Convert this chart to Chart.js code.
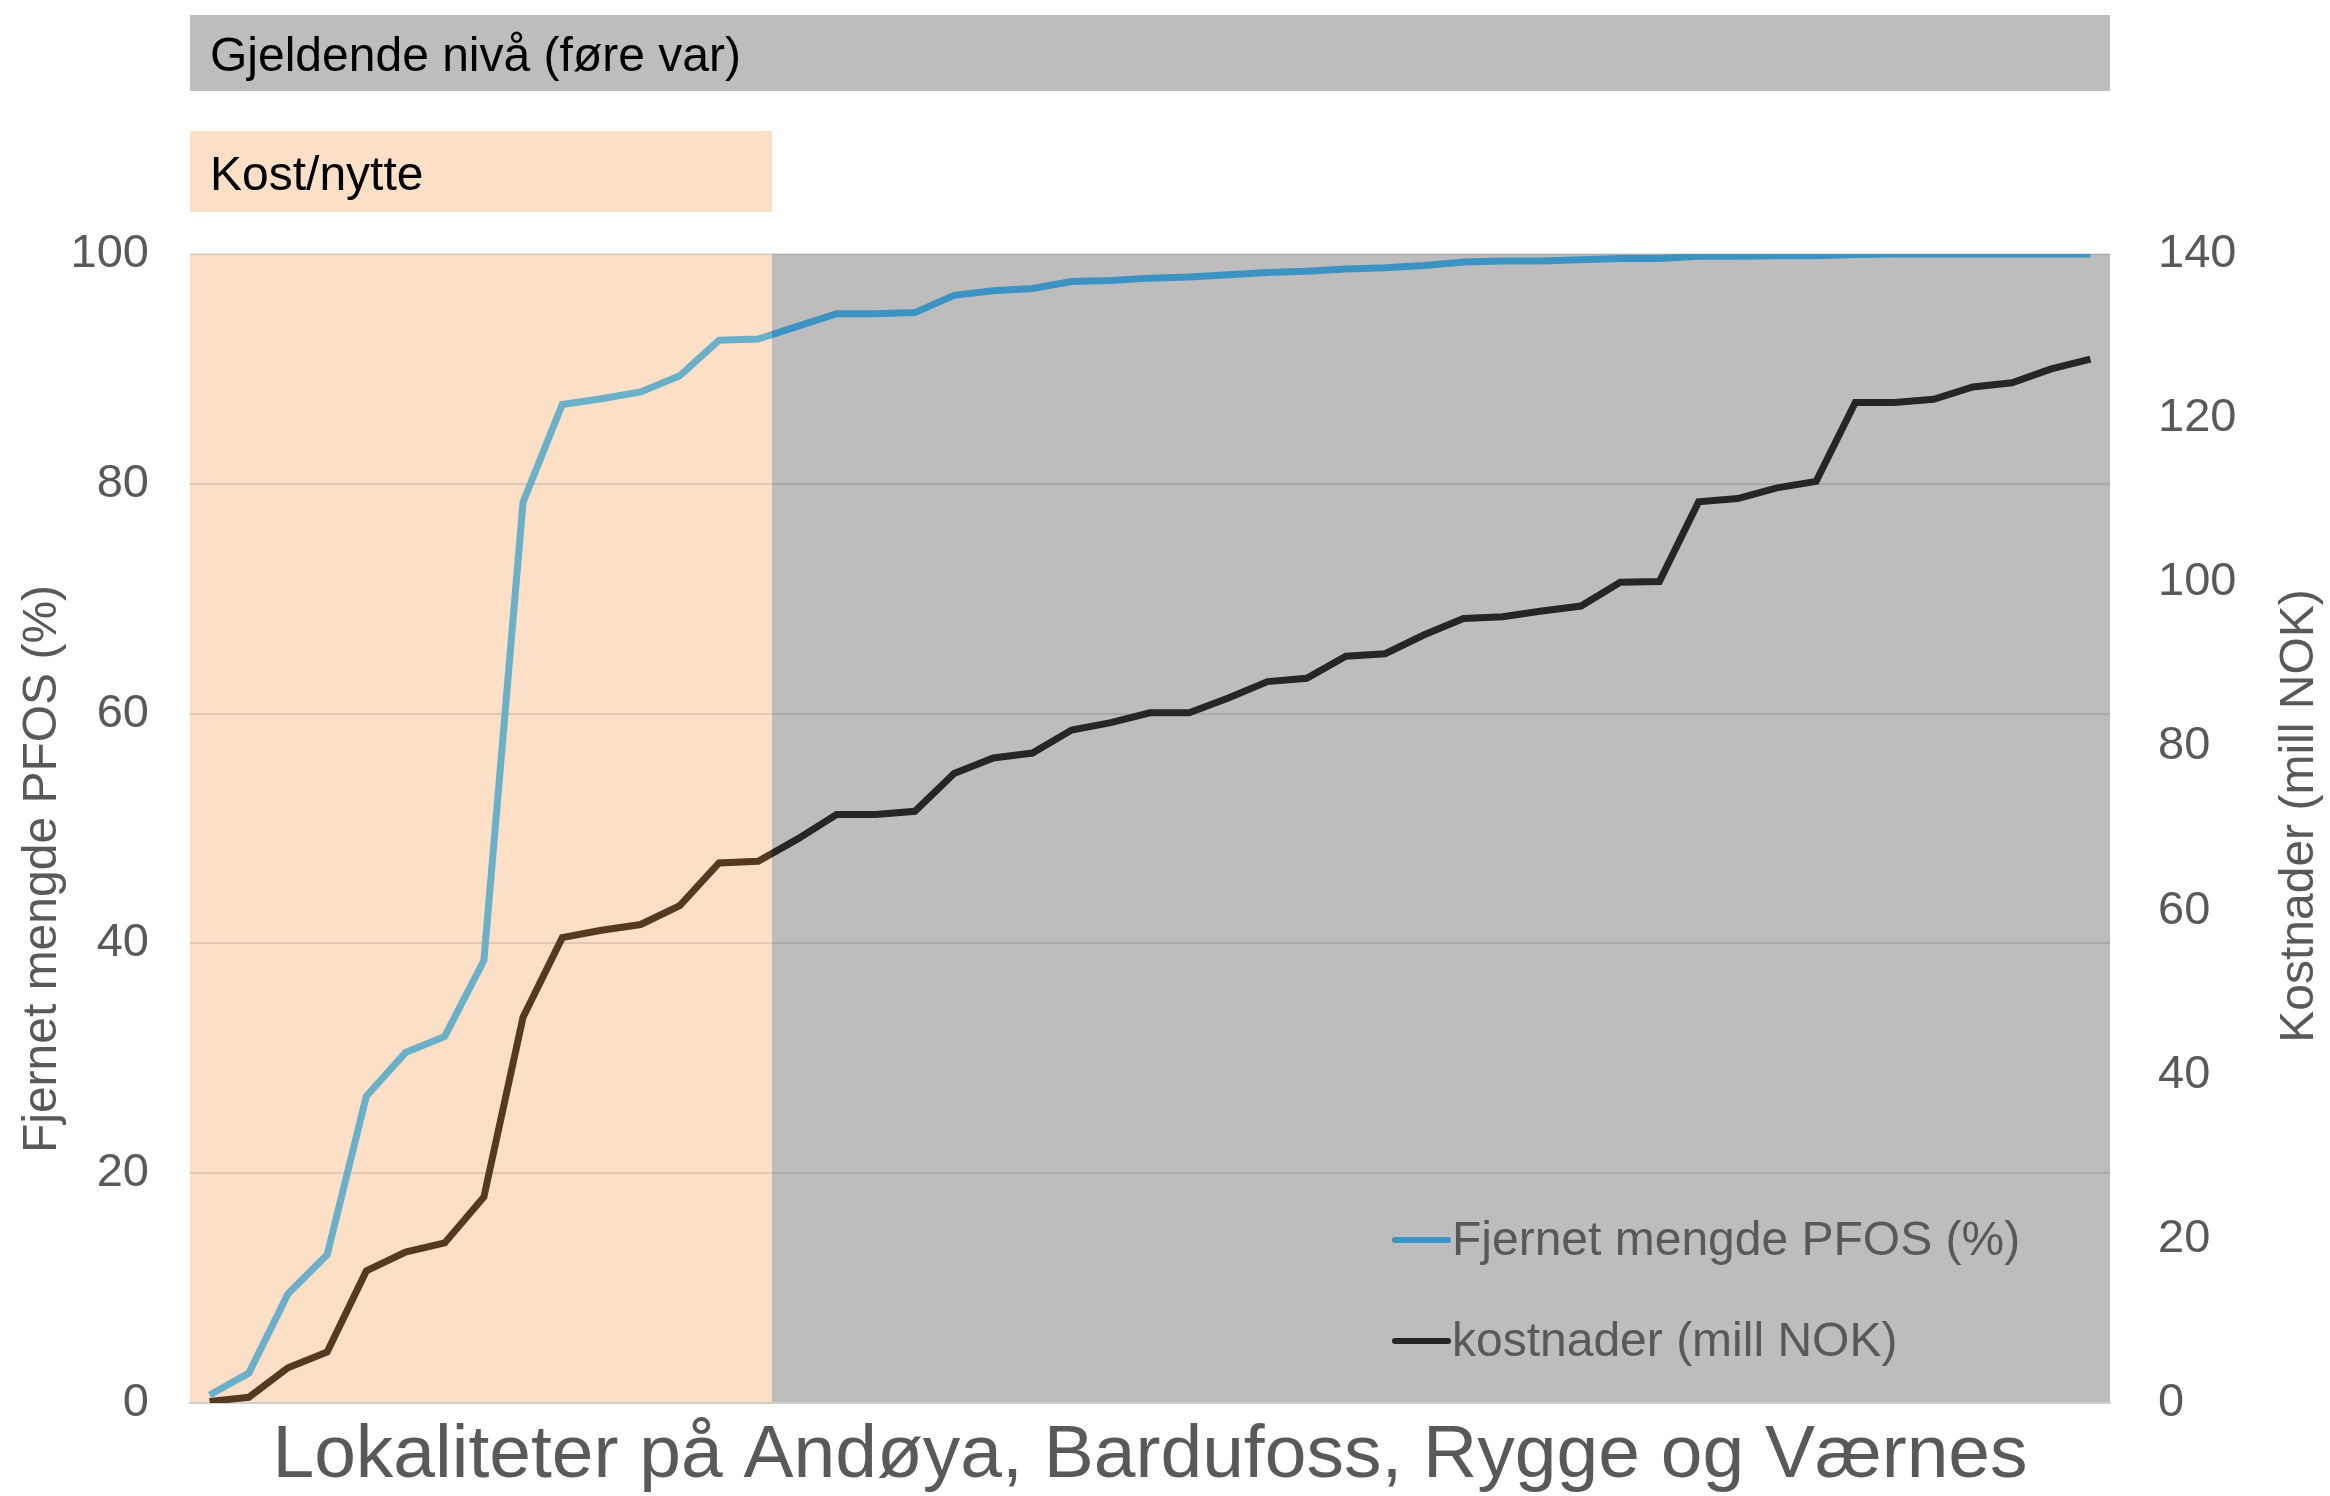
<!DOCTYPE html>
<html>
<head>
<meta charset="utf-8">
<style>
  body { margin: 0; background: #fff; }
</style>
</head>
<body>
<canvas id="pfosChart" width="2330" height="1496"></canvas>
<script src="https://cdn.jsdelivr.net/npm/chart.js"></script>
<script>
// sites, sorted by cost efficiency (not named in the figure)
const sites = [1, 2, 3, 4, 5, 6, 7, 8, 9, 10, 11, 12, 13, 14, 15, 16, 17, 18, 19, 20,
  21, 22, 23, 24, 25, 26, 27, 28, 29, 30, 31, 32, 33, 34, 35, 36, 37, 38, 39, 40,
  41, 42, 43, 44, 45, 46, 47, 48, 49];

// cumulative removed PFOS (%)
const pfosRemoved = [0.7, 2.6, 9.5, 12.9, 26.7, 30.5, 31.9, 38.5, 78.4, 86.9,
  87.4, 88.0, 89.4, 92.5, 92.6, 93.7, 94.8, 94.8, 94.9, 96.4,
  96.8, 97.0, 97.6, 97.7, 97.9, 98.0, 98.2, 98.4, 98.5, 98.7,
  98.8, 99.0, 99.3, 99.4, 99.4, 99.5, 99.6, 99.6, 99.8, 99.8,
  99.85, 99.85, 99.95, 100, 100, 100, 100, 100, 100];

// cumulative costs (mill NOK)
const costs = [0.2, 0.7, 4.3, 6.2, 16.1, 18.4, 19.5, 25.1, 47.0, 56.7,
  57.6, 58.3, 60.6, 65.8, 66.0, 68.7, 71.7, 71.7, 72.1, 76.7,
  78.6, 79.2, 82.0, 82.9, 84.1, 84.1, 85.9, 87.9, 88.3, 91.0,
  91.3, 93.6, 95.6, 95.8, 96.5, 97.1, 100.0, 100.1, 109.8, 110.2,
  111.5, 112.3, 121.9, 121.9, 122.3, 123.8, 124.3, 126.0, 127.2];

const seriesNames = ["Fjernet mengde PFOS (%)", "kostnader (mill NOK)"];
const bandLabels = ["Gjeldende nivå (føre var)", "Kost/nytte"];
const leftTicks = { max: 100, step: 20 };
const rightTicks = { max: 140, step: 20 };
const kostNytteEnd = 14.35; // x position where the cost/benefit band stops

const PEACH = "#fcdfc7";
const GRAY = "#bdbdbd";
const TEXT = "#595959";
const FONT = '"Liberation Sans", Arial, sans-serif';

Chart.defaults.font.family = FONT;
Chart.defaults.color = TEXT;

// line colour changes where the peach band ends
function splitColor(light, dark) {
  return function (context) {
    const chart = context.chart;
    const a = chart.chartArea;
    if (!a || !chart.scales.x) return dark;
    const split = chart.scales.x.getPixelForValue(kostNytteEnd);
    const f = Math.min(Math.max((split - a.left) / (a.right - a.left), 0), 1);
    const g = chart.ctx.createLinearGradient(a.left, 0, a.right, 0);
    g.addColorStop(0, light);
    g.addColorStop(f, light);
    g.addColorStop(f, dark);
    g.addColorStop(1, dark);
    return g;
  };
}

const legendColors = ["#3a93c3", "#262626"];

const bandPlugin = {
  id: "bands",
  beforeDraw(chart) {
    const { ctx, chartArea: a, scales: { x } } = chart;
    const split = x.getPixelForValue(kostNytteEnd);
    ctx.save();
    ctx.fillStyle = GRAY;
    ctx.fillRect(split, a.top, a.right - split, a.bottom - a.top);
    ctx.fillStyle = PEACH;
    ctx.fillRect(a.left, a.top, split - a.left, a.bottom - a.top);

    // header boxes
    ctx.fillStyle = GRAY;
    ctx.fillRect(a.left, 15, a.right - a.left, 76);
    ctx.fillStyle = PEACH;
    ctx.fillRect(a.left, 131, split - a.left, 81);
    ctx.fillStyle = "#000";
    ctx.font = "48px " + FONT;
    ctx.textBaseline = "middle";
    ctx.textAlign = "left";
    ctx.fillText(bandLabels[0], a.left + 20, 58);
    ctx.fillText(bandLabels[1], a.left + 20, 177);
    ctx.restore();
  },
  afterDraw(chart) {
    const { ctx } = chart;
    ctx.save();
    ctx.font = "48px " + FONT;
    ctx.fillStyle = TEXT;
    ctx.textBaseline = "middle";

    // axis titles, both reading bottom to top
    ctx.textAlign = "center";
    ctx.save();
    ctx.translate(43, 869);
    ctx.rotate(-Math.PI / 2);
    ctx.fillText(seriesNames[0], 0, 0);
    ctx.restore();
    ctx.save();
    ctx.translate(2300, 816);
    ctx.rotate(-Math.PI / 2);
    ctx.fillText("Kostnader (mill NOK)", 0, 0);
    ctx.restore();

    // legend inside plot
    ctx.textAlign = "left";
    ctx.lineCap = "round";
    ctx.lineWidth = 6;
    const rows = [1240, 1341];
    chart.data.datasets.forEach((ds, i) => {
      ctx.strokeStyle = legendColors[i];
      ctx.beginPath();
      ctx.moveTo(1395, rows[i]);
      ctx.lineTo(1448, rows[i]);
      ctx.stroke();
      ctx.fillStyle = TEXT;
      ctx.fillText(ds.label, 1452, rows[i] + 2);
    });
    ctx.restore();
  }
};

new Chart(document.getElementById("pfosChart"), {
  type: "line",
  data: {
    labels: sites,
    datasets: [
      {
        label: seriesNames[0],
        data: pfosRemoved,
        yAxisID: "y",
        borderColor: splitColor("#6ab0c9", "#3a93c3"),
        borderWidth: 7,
        pointRadius: 0,
        fill: false,
        tension: 0
      },
      {
        label: seriesNames[1],
        data: costs,
        yAxisID: "y1",
        borderColor: splitColor("#533a21", "#262626"),
        borderWidth: 7,
        pointRadius: 0,
        fill: false,
        tension: 0
      }
    ]
  },
  options: {
    responsive: false,
    animation: false,
    layout: { padding: { top: 254 } },
    plugins: {
      legend: { display: false },
      tooltip: { enabled: false }
    },
    scales: {
      x: {
        offset: true,
        ticks: { display: false },
        grid: { display: false },
        border: { color: "#d0d0d0", width: 2 },
        title: {
          display: true,
          text: "Lokaliteter på Andøya, Bardufoss, Rygge og Værnes",
          color: TEXT,
          font: { size: 75, lineHeight: 1 },
          padding: { top: 0, bottom: 2 }
        },
        afterFit(scale) { scale.height = 93; }
      },
      y: {
        position: "left",
        min: 0,
        max: leftTicks.max,
        ticks: { stepSize: leftTicks.step, padding: 41, color: TEXT, font: { size: 47 } },
        grid: { color: "rgba(0,0,0,0.1)", lineWidth: 2, drawTicks: false },
        border: { display: false },
        afterFit(scale) { scale.width = 190; }
      },
      y1: {
        position: "right",
        min: 0,
        max: rightTicks.max,
        ticks: { stepSize: rightTicks.step, padding: 48, color: TEXT, font: { size: 47 } },
        grid: { display: false, drawTicks: false },
        border: { display: false },
        afterFit(scale) { scale.width = 220; }
      }
    }
  },
  plugins: [bandPlugin]
});
</script>
</body>
</html>
